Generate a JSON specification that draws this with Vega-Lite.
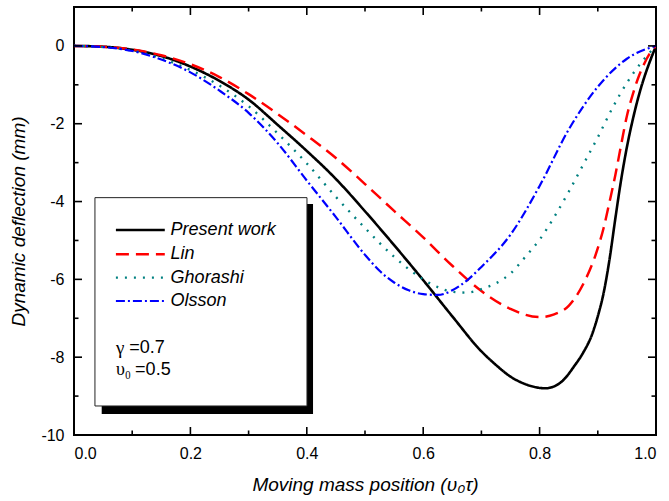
{
  "$schema": "https://vega.github.io/schema/vega-lite/v6.json",
  "width": 582,
  "height": 428,
  "autosize": {"type": "none"},
  "padding": {"left": 74, "top": 7, "right": 13, "bottom": 66},
  "background": "white",
  "config": {
    "view": {"stroke": "#000", "strokeWidth": 2},
    "axis": {
      "domain": false,
      "ticks": false,
      "grid": false,
      "labelFont": "Liberation Sans",
      "labelFontSize": 16,
      "labelColor": "#000",
      "titleFont": "Liberation Sans",
      "titleFontSize": 19,
      "titleFontWeight": "normal",
      "titleFontStyle": "italic",
      "titleColor": "#000"
    },
    "text": {"font": "Liberation Sans", "fontSize": 18, "color": "#000"}
  },
  "datasets": {
    "xmajor": [{"v": 0.2}, {"v": 0.4}, {"v": 0.6}, {"v": 0.8}],
    "xminor": [{"v": 0.1}, {"v": 0.3}, {"v": 0.5}, {"v": 0.7}, {"v": 0.9}],
    "ymajor": [{"v": -8}, {"v": -6}, {"v": -4}, {"v": -2}, {"v": 0}],
    "yminor": [{"v": -9}, {"v": -7}, {"v": -5}, {"v": -3}, {"v": -1}],
    "curves": [
      {"x": 0, "y": 0, "s": "Present work"},
      {"x": 0.05, "y": -0.02, "s": "Present work"},
      {"x": 0.1, "y": -0.1, "s": "Present work"},
      {"x": 0.15, "y": -0.26, "s": "Present work"},
      {"x": 0.2, "y": -0.53, "s": "Present work"},
      {"x": 0.25, "y": -0.9, "s": "Present work"},
      {"x": 0.3, "y": -1.38, "s": "Present work"},
      {"x": 0.35, "y": -2.03, "s": "Present work"},
      {"x": 0.4, "y": -2.7, "s": "Present work"},
      {"x": 0.45, "y": -3.42, "s": "Present work"},
      {"x": 0.5, "y": -4.25, "s": "Present work"},
      {"x": 0.55, "y": -5.12, "s": "Present work"},
      {"x": 0.6, "y": -6.02, "s": "Present work"},
      {"x": 0.65, "y": -6.95, "s": "Present work"},
      {"x": 0.7, "y": -7.85, "s": "Present work"},
      {"x": 0.725, "y": -8.2, "s": "Present work"},
      {"x": 0.75, "y": -8.5, "s": "Present work"},
      {"x": 0.775, "y": -8.69, "s": "Present work"},
      {"x": 0.8, "y": -8.79, "s": "Present work"},
      {"x": 0.81, "y": -8.8, "s": "Present work"},
      {"x": 0.825, "y": -8.75, "s": "Present work"},
      {"x": 0.84, "y": -8.6, "s": "Present work"},
      {"x": 0.86, "y": -8.22, "s": "Present work"},
      {"x": 0.875, "y": -7.88, "s": "Present work"},
      {"x": 0.89, "y": -7.42, "s": "Present work"},
      {"x": 0.9, "y": -6.95, "s": "Present work"},
      {"x": 0.91, "y": -6.35, "s": "Present work"},
      {"x": 0.92, "y": -5.5, "s": "Present work"},
      {"x": 0.93, "y": -4.45, "s": "Present work"},
      {"x": 0.94, "y": -3.45, "s": "Present work"},
      {"x": 0.95, "y": -2.6, "s": "Present work"},
      {"x": 0.96, "y": -1.9, "s": "Present work"},
      {"x": 0.97, "y": -1.3, "s": "Present work"},
      {"x": 0.98, "y": -0.8, "s": "Present work"},
      {"x": 0.99, "y": -0.38, "s": "Present work"},
      {"x": 1, "y": 0, "s": "Present work"},

      {"x": 0, "y": 0, "s": "Lin"},
      {"x": 0.05, "y": -0.02, "s": "Lin"},
      {"x": 0.1, "y": -0.09, "s": "Lin"},
      {"x": 0.15, "y": -0.24, "s": "Lin"},
      {"x": 0.2, "y": -0.47, "s": "Lin"},
      {"x": 0.25, "y": -0.8, "s": "Lin"},
      {"x": 0.3, "y": -1.24, "s": "Lin"},
      {"x": 0.35, "y": -1.75, "s": "Lin"},
      {"x": 0.4, "y": -2.3, "s": "Lin"},
      {"x": 0.45, "y": -2.88, "s": "Lin"},
      {"x": 0.5, "y": -3.55, "s": "Lin"},
      {"x": 0.55, "y": -4.24, "s": "Lin"},
      {"x": 0.6, "y": -4.92, "s": "Lin"},
      {"x": 0.65, "y": -5.65, "s": "Lin"},
      {"x": 0.7, "y": -6.3, "s": "Lin"},
      {"x": 0.75, "y": -6.76, "s": "Lin"},
      {"x": 0.8, "y": -6.97, "s": "Lin"},
      {"x": 0.825, "y": -6.9, "s": "Lin"},
      {"x": 0.85, "y": -6.68, "s": "Lin"},
      {"x": 0.875, "y": -6.12, "s": "Lin"},
      {"x": 0.9, "y": -5.2, "s": "Lin"},
      {"x": 0.91, "y": -4.68, "s": "Lin"},
      {"x": 0.92, "y": -4.02, "s": "Lin"},
      {"x": 0.93, "y": -3.33, "s": "Lin"},
      {"x": 0.94, "y": -2.55, "s": "Lin"},
      {"x": 0.95, "y": -1.8, "s": "Lin"},
      {"x": 0.96, "y": -1.25, "s": "Lin"},
      {"x": 0.97, "y": -0.8, "s": "Lin"},
      {"x": 0.98, "y": -0.45, "s": "Lin"},
      {"x": 0.99, "y": -0.18, "s": "Lin"},
      {"x": 1, "y": 0, "s": "Lin"},

      {"x": 0, "y": 0, "s": "Ghorashi"},
      {"x": 0.05, "y": -0.03, "s": "Ghorashi"},
      {"x": 0.1, "y": -0.12, "s": "Ghorashi"},
      {"x": 0.15, "y": -0.32, "s": "Ghorashi"},
      {"x": 0.2, "y": -0.62, "s": "Ghorashi"},
      {"x": 0.25, "y": -1.02, "s": "Ghorashi"},
      {"x": 0.3, "y": -1.55, "s": "Ghorashi"},
      {"x": 0.35, "y": -2.25, "s": "Ghorashi"},
      {"x": 0.4, "y": -3.02, "s": "Ghorashi"},
      {"x": 0.45, "y": -3.88, "s": "Ghorashi"},
      {"x": 0.5, "y": -4.68, "s": "Ghorashi"},
      {"x": 0.55, "y": -5.42, "s": "Ghorashi"},
      {"x": 0.6, "y": -6.0, "s": "Ghorashi"},
      {"x": 0.625, "y": -6.2, "s": "Ghorashi"},
      {"x": 0.65, "y": -6.32, "s": "Ghorashi"},
      {"x": 0.675, "y": -6.34, "s": "Ghorashi"},
      {"x": 0.7, "y": -6.25, "s": "Ghorashi"},
      {"x": 0.725, "y": -6.1, "s": "Ghorashi"},
      {"x": 0.75, "y": -5.85, "s": "Ghorashi"},
      {"x": 0.775, "y": -5.43, "s": "Ghorashi"},
      {"x": 0.8, "y": -4.98, "s": "Ghorashi"},
      {"x": 0.825, "y": -4.4, "s": "Ghorashi"},
      {"x": 0.85, "y": -3.75, "s": "Ghorashi"},
      {"x": 0.875, "y": -3.05, "s": "Ghorashi"},
      {"x": 0.9, "y": -2.35, "s": "Ghorashi"},
      {"x": 0.925, "y": -1.6, "s": "Ghorashi"},
      {"x": 0.95, "y": -0.95, "s": "Ghorashi"},
      {"x": 0.975, "y": -0.42, "s": "Ghorashi"},
      {"x": 1, "y": 0, "s": "Ghorashi"},

      {"x": 0, "y": 0, "s": "Olsson"},
      {"x": 0.05, "y": -0.03, "s": "Olsson"},
      {"x": 0.1, "y": -0.13, "s": "Olsson"},
      {"x": 0.15, "y": -0.35, "s": "Olsson"},
      {"x": 0.2, "y": -0.68, "s": "Olsson"},
      {"x": 0.25, "y": -1.15, "s": "Olsson"},
      {"x": 0.3, "y": -1.72, "s": "Olsson"},
      {"x": 0.35, "y": -2.5, "s": "Olsson"},
      {"x": 0.4, "y": -3.46, "s": "Olsson"},
      {"x": 0.45, "y": -4.4, "s": "Olsson"},
      {"x": 0.5, "y": -5.37, "s": "Olsson"},
      {"x": 0.525, "y": -5.78, "s": "Olsson"},
      {"x": 0.55, "y": -6.08, "s": "Olsson"},
      {"x": 0.575, "y": -6.28, "s": "Olsson"},
      {"x": 0.6, "y": -6.38, "s": "Olsson"},
      {"x": 0.625, "y": -6.4, "s": "Olsson"},
      {"x": 0.65, "y": -6.28, "s": "Olsson"},
      {"x": 0.675, "y": -6.03, "s": "Olsson"},
      {"x": 0.7, "y": -5.68, "s": "Olsson"},
      {"x": 0.75, "y": -4.85, "s": "Olsson"},
      {"x": 0.8, "y": -3.6, "s": "Olsson"},
      {"x": 0.85, "y": -2.15, "s": "Olsson"},
      {"x": 0.9, "y": -1.05, "s": "Olsson"},
      {"x": 0.95, "y": -0.33, "s": "Olsson"},
      {"x": 1, "y": 0, "s": "Olsson"}
    ]
  },
  "layer": [
    {
      "data": {"name": "curves"},
      "mark": {"type": "line", "interpolate": "monotone", "clip": true},
      "encoding": {
        "x": {
          "field": "x", "type": "quantitative",
          "scale": {"domain": [0, 1], "nice": false, "zero": false, "padding": 0},
          "axis": {
            "orient": "bottom",
            "values": [0, 0.2, 0.4, 0.6, 0.8, 1],
            "format": ".1f",
            "labelPadding": 10,
            "titlePadding": 14,
            "title": "Moving mass position (υ₀τ)"
          }
        },
        "y": {
          "field": "y", "type": "quantitative",
          "scale": {"domain": [-10, 1], "nice": false, "zero": false, "padding": 0},
          "axis": {
            "orient": "left",
            "values": [-10, -8, -6, -4, -2, 0],
            "labelExpr": "datum.value == 0 ? '0' : '-' + abs(datum.value)",
            "labelPadding": 10,
            "titlePadding": 12,
            "title": "Dynamic deflection (mm)"
          }
        },
        "color": {
          "field": "s", "type": "nominal", "legend": null,
          "scale": {"domain": ["Present work", "Lin", "Ghorashi", "Olsson"], "range": ["#000000", "#ff0000", "#008080", "#0000ff"]}
        },
        "strokeDash": {
          "field": "s", "type": "nominal", "legend": null,
          "scale": {"domain": ["Present work", "Lin", "Ghorashi", "Olsson"], "range": [[1, 0], [13, 7], [2, 7], [9, 3, 2, 3]]}
        },
        "strokeWidth": {
          "field": "s", "type": "nominal", "legend": null,
          "scale": {"domain": ["Present work", "Lin", "Ghorashi", "Olsson"], "range": [2.6, 2.2, 2, 1.1]}
        }
      }
    },
    {
      "data": {"name": "xmajor"},
      "mark": {"type": "bar", "size": 1.6, "color": "#000", "orient": "vertical"},
      "encoding": {
        "x": {"field": "v", "type": "quantitative", "axis": null},
        "y": {"datum": -10, "type": "quantitative", "axis": null},
        "y2": {"datum": -9.7944}
      }
    },
    {
      "data": {"name": "xmajor"},
      "mark": {"type": "bar", "size": 1.6, "color": "#000", "orient": "vertical"},
      "encoding": {
        "x": {"field": "v", "type": "quantitative", "axis": null},
        "y": {"datum": 1, "type": "quantitative", "axis": null},
        "y2": {"datum": 0.7944}
      }
    },
    {
      "data": {"name": "xminor"},
      "mark": {"type": "bar", "size": 1.6, "color": "#000", "orient": "vertical"},
      "encoding": {
        "x": {"field": "v", "type": "quantitative", "axis": null},
        "y": {"datum": -10, "type": "quantitative", "axis": null},
        "y2": {"datum": -9.8843}
      }
    },
    {
      "data": {"name": "xminor"},
      "mark": {"type": "bar", "size": 1.6, "color": "#000", "orient": "vertical"},
      "encoding": {
        "x": {"field": "v", "type": "quantitative", "axis": null},
        "y": {"datum": 1, "type": "quantitative", "axis": null},
        "y2": {"datum": 0.8843}
      }
    },
    {
      "data": {"name": "ymajor"},
      "mark": {"type": "bar", "size": 1.6, "color": "#000", "orient": "horizontal"},
      "encoding": {
        "y": {"field": "v", "type": "quantitative", "axis": null},
        "x": {"datum": 0, "type": "quantitative", "axis": null},
        "x2": {"datum": 0.01375}
      }
    },
    {
      "data": {"name": "ymajor"},
      "mark": {"type": "bar", "size": 1.6, "color": "#000", "orient": "horizontal"},
      "encoding": {
        "y": {"field": "v", "type": "quantitative", "axis": null},
        "x": {"datum": 1, "type": "quantitative", "axis": null},
        "x2": {"datum": 0.98625}
      }
    },
    {
      "data": {"name": "yminor"},
      "mark": {"type": "bar", "size": 1.6, "color": "#000", "orient": "horizontal"},
      "encoding": {
        "y": {"field": "v", "type": "quantitative", "axis": null},
        "x": {"datum": 0, "type": "quantitative", "axis": null},
        "x2": {"datum": 0.00773}
      }
    },
    {
      "data": {"name": "yminor"},
      "mark": {"type": "bar", "size": 1.6, "color": "#000", "orient": "horizontal"},
      "encoding": {
        "y": {"field": "v", "type": "quantitative", "axis": null},
        "x": {"datum": 1, "type": "quantitative", "axis": null},
        "x2": {"datum": 0.99227}
      }
    },
    {
      "data": {"values": [{}]},
      "mark": {"type": "rect", "fill": "#000"},
      "encoding": {
        "x": {"datum": 0.0476, "type": "quantitative", "axis": null},
        "x2": {"datum": 0.4107},
        "y": {"datum": -4.063, "type": "quantitative", "axis": null},
        "y2": {"datum": -9.46}
      }
    },
    {
      "data": {"values": [{}]},
      "mark": {"type": "rect", "fill": "#fff", "stroke": "#222", "strokeWidth": 1},
      "encoding": {
        "x": {"datum": 0.036, "type": "quantitative", "axis": null},
        "x2": {"datum": 0.4003},
        "y": {"datum": -3.9, "type": "quantitative", "axis": null},
        "y2": {"datum": -9.254}
      }
    },
    {
      "data": {"values": [{}]},
      "mark": {"type": "rule"},
      "encoding": {
        "x": {"datum": 0.072, "type": "quantitative", "axis": null},
        "x2": {"datum": 0.156},
        "y": {"datum": -4.73, "type": "quantitative", "axis": null},
        "color": {"datum": "Present work", "type": "nominal"},
        "strokeDash": {"datum": "Present work", "type": "nominal"},
        "strokeWidth": {"datum": "Present work", "type": "nominal"}
      }
    },
    {
      "data": {"values": [{}]},
      "mark": {"type": "rule"},
      "encoding": {
        "x": {"datum": 0.072, "type": "quantitative", "axis": null},
        "x2": {"datum": 0.156},
        "y": {"datum": -5.356, "type": "quantitative", "axis": null},
        "color": {"datum": "Lin", "type": "nominal"},
        "strokeDash": {"datum": "Lin", "type": "nominal"},
        "strokeWidth": {"datum": "Lin", "type": "nominal"}
      }
    },
    {
      "data": {"values": [{}]},
      "mark": {"type": "rule"},
      "encoding": {
        "x": {"datum": 0.072, "type": "quantitative", "axis": null},
        "x2": {"datum": 0.156},
        "y": {"datum": -5.957, "type": "quantitative", "axis": null},
        "color": {"datum": "Ghorashi", "type": "nominal"},
        "strokeDash": {"datum": "Ghorashi", "type": "nominal"},
        "strokeWidth": {"datum": "Ghorashi", "type": "nominal"}
      }
    },
    {
      "data": {"values": [{}]},
      "mark": {"type": "rule"},
      "encoding": {
        "x": {"datum": 0.072, "type": "quantitative", "axis": null},
        "x2": {"datum": 0.156},
        "y": {"datum": -6.556, "type": "quantitative", "axis": null},
        "color": {"datum": "Olsson", "type": "nominal"},
        "strokeDash": {"datum": "Olsson", "type": "nominal"},
        "strokeWidth": {"datum": "Olsson", "type": "nominal"}
      }
    },
    {
      "data": {"values": [{}]},
      "mark": {"type": "text", "align": "left", "baseline": "middle", "fontStyle": "italic"},
      "encoding": {
        "x": {"datum": 0.166, "type": "quantitative", "axis": null},
        "y": {"datum": -4.73, "type": "quantitative", "axis": null},
        "text": {"datum": "Present work"}
      }
    },
    {
      "data": {"values": [{}]},
      "mark": {"type": "text", "align": "left", "baseline": "middle", "fontStyle": "italic"},
      "encoding": {
        "x": {"datum": 0.166, "type": "quantitative", "axis": null},
        "y": {"datum": -5.356, "type": "quantitative", "axis": null},
        "text": {"datum": "Lin"}
      }
    },
    {
      "data": {"values": [{}]},
      "mark": {"type": "text", "align": "left", "baseline": "middle", "fontStyle": "italic"},
      "encoding": {
        "x": {"datum": 0.166, "type": "quantitative", "axis": null},
        "y": {"datum": -5.957, "type": "quantitative", "axis": null},
        "text": {"datum": "Ghorashi"}
      }
    },
    {
      "data": {"values": [{}]},
      "mark": {"type": "text", "align": "left", "baseline": "middle", "fontStyle": "italic"},
      "encoding": {
        "x": {"datum": 0.166, "type": "quantitative", "axis": null},
        "y": {"datum": -6.556, "type": "quantitative", "axis": null},
        "text": {"datum": "Olsson"}
      }
    },
    {
      "data": {"values": [{}]},
      "mark": {"type": "text", "align": "left", "baseline": "middle", "font": "Liberation Serif", "fontSize": 19},
      "encoding": {
        "x": {"datum": 0.072, "type": "quantitative", "axis": null},
        "y": {"datum": -7.76, "type": "quantitative", "axis": null},
        "text": {"datum": "γ"}
      }
    },
    {
      "data": {"values": [{}]},
      "mark": {"type": "text", "align": "left", "baseline": "middle"},
      "encoding": {
        "x": {"datum": 0.095, "type": "quantitative", "axis": null},
        "y": {"datum": -7.76, "type": "quantitative", "axis": null},
        "text": {"datum": "=0.7"}
      }
    },
    {
      "data": {"values": [{}]},
      "mark": {"type": "text", "align": "left", "baseline": "middle", "font": "Liberation Serif", "fontSize": 18},
      "encoding": {
        "x": {"datum": 0.072, "type": "quantitative", "axis": null},
        "y": {"datum": -8.33, "type": "quantitative", "axis": null},
        "text": {"datum": "υ₀"}
      }
    },
    {
      "data": {"values": [{}]},
      "mark": {"type": "text", "align": "left", "baseline": "middle"},
      "encoding": {
        "x": {"datum": 0.105, "type": "quantitative", "axis": null},
        "y": {"datum": -8.33, "type": "quantitative", "axis": null},
        "text": {"datum": "=0.5"}
      }
    }
  ],
  "resolve": {"axis": {"x": "independent", "y": "independent"}}
}
